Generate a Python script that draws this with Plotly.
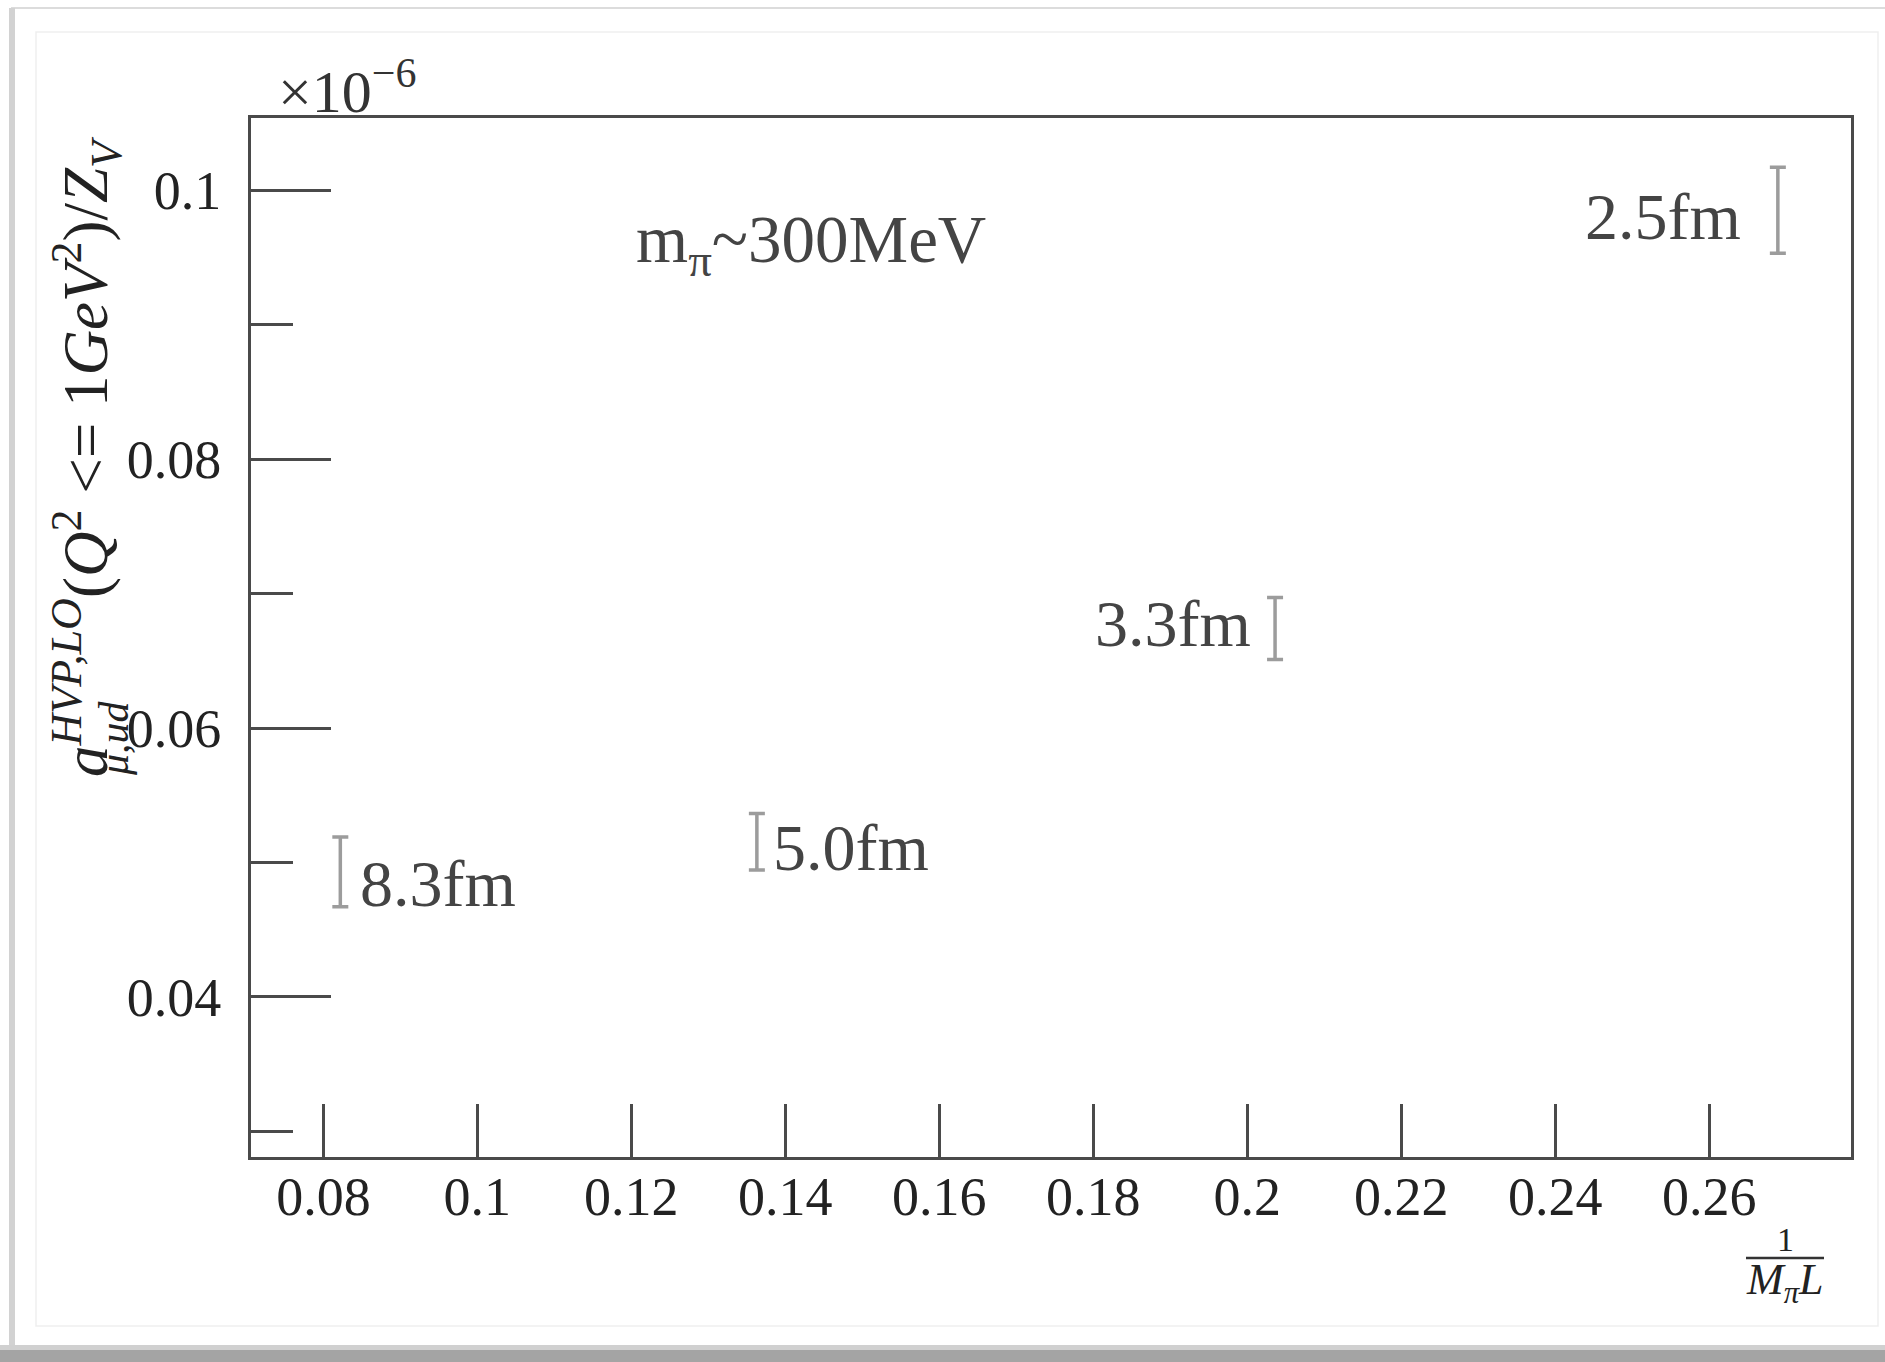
import plotly.graph_objects as go

# ---- data ----
x_vals = [0.0822, 0.1363, 0.2036, 0.2689]          # 1/(M_pi L)
y_vals = [0.0493, 0.05155, 0.0674, 0.0985]         # a_mu (x 1e-6)
y_err = [0.0026, 0.0021, 0.0023, 0.0032]
point_labels = ["8.3fm", "5.0fm", "3.3fm", "2.5fm"]

x_ticks = [0.08, 0.10, 0.12, 0.14, 0.16, 0.18, 0.20, 0.22, 0.24, 0.26]
x_ticktext = ["0.08", "0.1", "0.12", "0.14", "0.16", "0.18", "0.2", "0.22", "0.24", "0.26"]
y_ticks = [0.04, 0.06, 0.08, 0.10]
y_ticktext = ["0.04", "0.06", "0.08", "0.1"]
y_minor = [0.03, 0.05, 0.07, 0.09]

# ---- layout geometry (pixels) ----
W, H = 1885, 1362
L, R, T, B = 251, 1851, 118, 1157
PW, PH = R - L, B - T


def px(x):
    return (x - L) / PW


def py(y):
    return (B - y) / PH


SERIF = "Liberation Serif, Times New Roman, serif"
AXC = "#4a4a4a"

fig = go.Figure()
fig.add_trace(go.Scatter(
    x=x_vals, y=y_vals, mode="markers",
    marker=dict(size=1, color="rgba(0,0,0,0)"),
    error_y=dict(type="data", array=y_err, visible=True,
                 color="#9c9c9c", thickness=3.5, width=8),
    hoverinfo="skip", showlegend=False,
))

# label offsets (style)
lab_style = [
    dict(xanchor="left", xshift=18, yshift=-12),
    dict(xanchor="left", xshift=14, yshift=-6),
    dict(xanchor="right", xshift=-22, yshift=5),
    dict(xanchor="right", xshift=-35, yshift=-6),
]
annotations = []
for xv, yv, txt, st in zip(x_vals, y_vals, point_labels, lab_style):
    annotations.append(dict(
        x=xv, y=yv, xref="x", yref="y", text=txt, showarrow=False,
        yanchor="middle", font=dict(family=SERIF, size=66, color="#444444"), **st))

annotations += [
    dict(x=px(634), y=py(244), xref="paper", yref="paper", xanchor="left", yanchor="middle",
         text="m<sub>π</sub>~300MeV", showarrow=False,
         font=dict(family=SERIF, size=67, color="#444444")),
    dict(x=px(276), y=1, xref="paper", yref="paper", xanchor="left", yanchor="bottom",
         yshift=-9, text="×10<sup>−6</sup>", showarrow=False,
         font=dict(family=SERIF, size=60, color="#333333")),
    # y axis title (rotated)
    dict(x=px(86), y=py(457), xref="paper", yref="paper", xanchor="center", yanchor="middle",
         textangle=-90, showarrow=False,
         text="<i>a</i><sup><i>HVP,LO</i></sup>(<i>Q</i><sup>2</sup> <= 1<i>GeV</i><sup>2</sup>)/<i>Z<sub>V</sub></i>",
         font=dict(family=SERIF, size=63, color="#222222")),
    dict(x=px(114), y=py(738), xref="paper", yref="paper", xanchor="center", yanchor="middle",
         textangle=-90, showarrow=False, text="<i>μ,ud</i>",
         font=dict(family=SERIF, size=42, color="#222222")),
    # x axis title as a fraction
    dict(x=px(1785), y=py(1239), xref="paper", yref="paper", xanchor="center", yanchor="middle",
         text="1", showarrow=False, font=dict(family=SERIF, size=34, color="#222222")),
    dict(x=px(1785), y=py(1282), xref="paper", yref="paper", xanchor="center", yanchor="middle",
         text="<i>M<sub>π</sub>L</i>", showarrow=False, font=dict(family=SERIF, size=44, color="#222222")),
]

shapes = [
    # card frame
    dict(type="rect", xref="paper", yref="paper", x0=px(12), x1=px(1890), y0=py(8), y1=py(1347),
         line=dict(color="#dcdcdc", width=2), fillcolor="rgba(0,0,0,0)", layer="below"),
    dict(type="rect", xref="paper", yref="paper", x0=px(9), x1=px(15), y0=py(8), y1=py(1347),
         line=dict(width=0), fillcolor="#d2d2d2", layer="below"),
    dict(type="rect", xref="paper", yref="paper", x0=px(36), x1=px(1878), y0=py(32), y1=py(1326),
         line=dict(color="#efefef", width=1.5), fillcolor="rgba(0,0,0,0)", layer="below"),
    # bottom shadow
    dict(type="rect", xref="paper", yref="paper", x0=px(0), x1=px(1885), y0=py(1345), y1=py(1350),
         line=dict(width=0), fillcolor="#d0d0d0", layer="below"),
    dict(type="rect", xref="paper", yref="paper", x0=px(0), x1=px(1885), y0=py(1350), y1=py(1362),
         line=dict(width=0), fillcolor="#a4a4a4", layer="below"),
    # fraction bar
    dict(type="line", xref="paper", yref="paper", x0=px(1746), x1=px(1824), y0=py(1258), y1=py(1258),
         line=dict(color="#333333", width=2.5)),
]

fig.update_layout(
    width=W, height=H,
    margin=dict(l=L, r=W - R, t=T, b=H - B, pad=0),
    paper_bgcolor="white", plot_bgcolor="white",
    showlegend=False,
    annotations=annotations, shapes=shapes,
    xaxis=dict(range=[0.0706, 0.2784], tickmode="array", tickvals=x_ticks, ticktext=x_ticktext,
               ticks="inside", ticklen=53, tickwidth=2.5, tickcolor=AXC,
               showline=True, linecolor=AXC, linewidth=3, mirror=True,
               showgrid=False, zeroline=False, ticklabelstandoff=-10,
               tickfont=dict(family=SERIF, size=54, color="#222222")),
    yaxis=dict(range=[0.0281, 0.10536], tickmode="array", tickvals=y_ticks, ticktext=y_ticktext,
               ticks="inside", ticklen=80, tickwidth=2.5, tickcolor=AXC,
               minor=dict(tickmode="array", tickvals=y_minor, ticks="inside", ticklen=42,
                          tickwidth=2.5, tickcolor=AXC, showgrid=False),
               showline=True, linecolor=AXC, linewidth=3, mirror=True,
               showgrid=False, zeroline=False, ticklabelstandoff=16,
               tickfont=dict(family=SERIF, size=54, color="#222222")),
)

fig.write_html("out.html")
